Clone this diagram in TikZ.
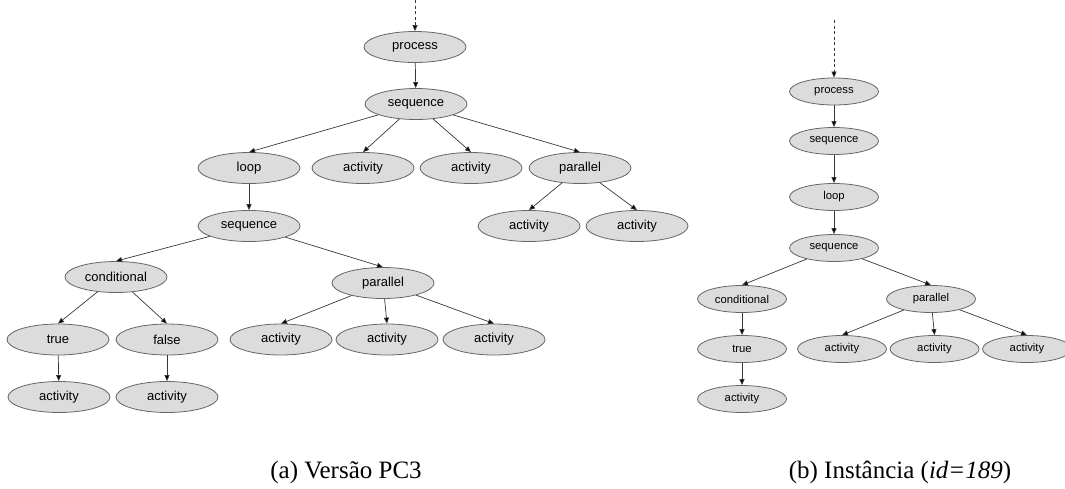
\documentclass[tikz,border=0pt]{standalone}
\usepackage{fontspec}
\setmainfont{Liberation Serif}
\newfontfamily\arialfont{Liberation Sans}
\usetikzlibrary{shapes.geometric,arrows.meta}
\definecolor{nodefill}{HTML}{DCDCDC}
\definecolor{nodeline}{HTML}{666666}
\definecolor{edgeline}{HTML}{383838}
\tikzset{
  bignode/.style={ellipse,draw=nodeline,fill=nodefill,line width=0.8pt,
    minimum width=102pt,minimum height=31pt,inner sep=0pt,
    font=\arialfont\fontsize{13}{15}\selectfont},
  smallnode/.style={ellipse,draw=nodeline,fill=nodefill,line width=0.8pt,
    minimum width=89pt,minimum height=27pt,inner sep=0pt,
    font=\arialfont\fontsize{11.3}{13}\selectfont},
  edge/.style={draw=edgeline,line width=0.7pt,
    -{Triangle[length=6pt,width=5pt,fill=black]}},
  entry/.style={edge,dashed,dash pattern=on 3pt off 2.5pt},
  caption/.style={anchor=base,font=\fontsize{25}{28}\selectfont}
}
\begin{document}
\begin{tikzpicture}[x=1pt,y=-1pt]
\useasboundingbox (0,0) rectangle (1065,488);
\begin{scope}
\clip (0,0) rectangle (1065,488);
% ---- tree of version PC3 ----
\coordinate (La) at (415,0);
\node[bignode] (Lproc) at (415,47) {process};
\node[bignode] (Lseq) at (416,104) {sequence};
\node[bignode] (Lloop) at (249,168) {loop};
\node[bignode] (Lact1) at (363,168) {activity};
\node[bignode] (Lact2) at (471,168) {activity};
\node[bignode] (Lpar) at (580,168) {parallel};
\node[bignode] (Lseq2) at (249,226) {sequence};
\node[bignode] (Lact3) at (529,226) {activity};
\node[bignode] (Lact4) at (637,226) {activity};
\node[bignode] (Lcond) at (116,277) {conditional};
\node[bignode] (Lpar2) at (383,283) {parallel};
\node[bignode] (Ltrue) at (58,339.5) {true};
\node[bignode] (Lfalse) at (167,339.5) {false};
\node[bignode] (Lact5) at (59,397) {activity};
\node[bignode] (Lact6) at (167,397) {activity};
\node[bignode] (Lact7) at (281,339.5) {activity};
\node[bignode] (Lact8) at (387,339.5) {activity};
\node[bignode] (Lact9) at (494,339.5) {activity};
\draw[entry] (La) -- (Lproc);
\draw[edge] (Lproc) -- (Lseq);
\draw[edge] (Lseq) -- (Lloop.north);
\draw[edge] (Lseq) -- (Lact1.north);
\draw[edge] (Lseq) -- (Lact2.north);
\draw[edge] (Lseq) -- (Lpar.north);
\draw[edge] (Lloop) -- (Lseq2);
\draw[edge] (Lpar) -- (Lact3.north);
\draw[edge] (Lpar) -- (Lact4.north);
\draw[edge] (Lseq2) -- (Lcond.north);
\draw[edge] (Lseq2) -- (Lpar2.north);
\draw[edge] (Lcond) -- (Ltrue.north);
\draw[edge] (Lcond) -- (Lfalse.north);
\draw[edge] (Ltrue) -- (Lact5);
\draw[edge] (Lfalse) -- (Lact6);
\draw[edge] (Lpar2) -- (Lact7.north);
\draw[edge] (Lpar2) -- (Lact8.north);
\draw[edge] (Lpar2) -- (Lact9.north);
% ---- tree of instance id=189 ----
\coordinate (Ra) at (834,20);
\node[smallnode] (Rproc) at (834,91.5) {process};
\node[smallnode] (Rseq) at (834,141) {sequence};
\node[smallnode] (Rloop) at (834,197) {loop};
\node[smallnode] (Rseq2) at (834,248) {sequence};
\node[smallnode] (Rcond) at (742,299) {conditional};
\node[smallnode] (Rpar) at (931,299) {parallel};
\node[smallnode] (Rtrue) at (742,349) {true};
\node[smallnode] (Ract1) at (742,399) {activity};
\node[smallnode] (Ract2) at (842,349) {activity};
\node[smallnode] (Ract3) at (934.5,349) {activity};
\node[smallnode] (Ract4) at (1027,349) {activity};
\draw[entry] (Ra) -- (Rproc);
\draw[edge] (Rproc) -- (Rseq);
\draw[edge] (Rseq) -- (Rloop);
\draw[edge] (Rloop) -- (Rseq2);
\draw[edge] (Rseq2) -- (Rcond.north);
\draw[edge] (Rseq2) -- (Rpar.north);
\draw[edge] (Rcond) -- (Rtrue);
\draw[edge] (Rtrue) -- (Ract1);
\draw[edge] (Rpar) -- (Ract2.north);
\draw[edge] (Rpar) -- (Ract3.north);
\draw[edge] (Rpar) -- (Ract4.north);
\end{scope}
% ---- captions ----
\node[caption] (capa) at (346,478) {(a) Versão PC3};
\node[caption] (capb) at (900,478) {(b) Instância (\textit{id=189})};
\end{tikzpicture}
\end{document}
